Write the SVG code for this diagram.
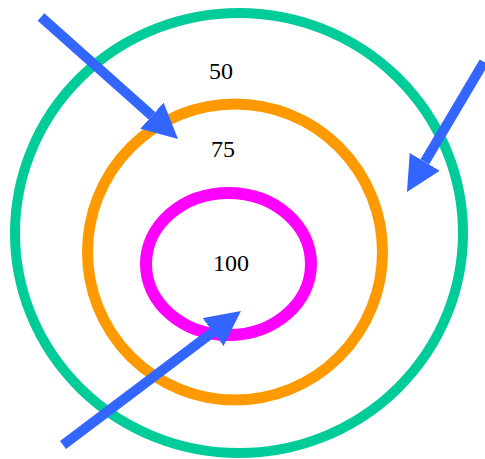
<svg xmlns="http://www.w3.org/2000/svg" width="485" height="459" viewBox="0 0 485 459">
<style>
.ring{fill:none}
.lbl{font-family:"Liberation Serif","Times New Roman",serif;font-size:24px;fill:#000;text-anchor:middle}
.arr{stroke:#3366FF;stroke-width:10;fill:none;marker-end:url(#head)}
</style>
<defs>
<marker id="head" viewBox="0 0 35 35" markerWidth="35" markerHeight="35" markerUnits="userSpaceOnUse" refX="0" refY="17.5" orient="auto">
<path d="M0,0 L35,17.5 L0,35 z" fill="#3366FF"/>
</marker>
</defs>
<g id="ring50">
<ellipse class="ring" cx="239" cy="233" rx="224" ry="220" stroke="#00CC99" stroke-width="10"/>
<text class="lbl" x="221" y="79">50</text>
</g>
<g id="ring75">
<ellipse class="ring" cx="235" cy="252" rx="147.5" ry="148" stroke="#FF9900" stroke-width="11"/>
<text class="lbl" x="223" y="157">75</text>
</g>
<g id="ring100">
<ellipse class="ring" cx="228.5" cy="264" rx="82.5" ry="71" stroke="#FF00FF" stroke-width="12"/>
<text class="lbl" x="231" y="271">100</text>
</g>
<g id="connectors">
<line class="arr" x1="41" y1="17" x2="151.9" y2="115.7"/>
<line class="arr" x1="484" y1="62" x2="424.8" y2="161.9"/>
<line class="arr" x1="63" y1="445" x2="213" y2="332"/>
</g>
</svg>
